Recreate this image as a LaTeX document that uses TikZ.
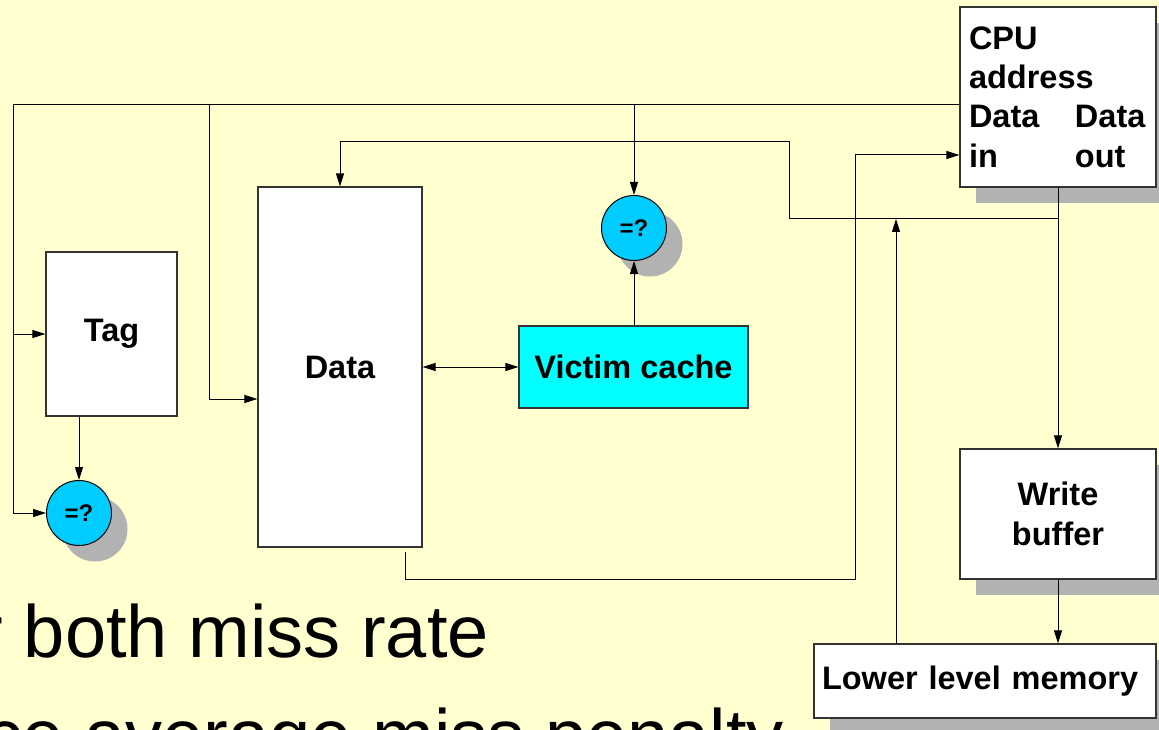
\documentclass[tikz,border=0pt]{standalone}
\usepackage{fontspec}
\setmainfont{Liberation Sans}
\usepackage{xcolor}
\usepackage{tikz}
\usetikzlibrary{arrows.meta,shadows}
\definecolor{vcyellow}{RGB}{255,255,208}
\definecolor{vccyan}{RGB}{0,255,255}
\definecolor{vcblue}{RGB}{0,204,255}
\definecolor{vcgray}{RGB}{178,178,178}
\newcommand\vclabel{\bfseries\fontsize{32.5}{39.3}\selectfont}
\tikzset{
  vcback/.style={fill=vcyellow},
  vcbox/.style={draw=black!80, line width=1.2pt, fill=white, inner sep=0pt, font=\vclabel},
  vcshade/.style={drop shadow={shadow xshift=16pt, shadow yshift=-16pt, fill=vcgray, opacity=1}},
  vccmp/.style={circle, draw=black, line width=1pt, fill=vcblue, minimum size=65pt, inner sep=0pt, font=\bfseries\fontsize{24}{24}\selectfont, vcshade},
  vcwire/.style={line width=1pt, draw=black},
  vcarrow/.style={vcwire, -{Triangle[length=13pt,width=8pt]}},
  vcboth/.style={vcwire, {Triangle[length=13pt,width=8pt]}-{Triangle[length=13pt,width=8pt]}},
  vcbig/.style={font=\fontsize{74}{90}\selectfont, inner sep=0pt},
}
\begin{document}
\begin{tikzpicture}[x=1pt,y=-1pt]
\useasboundingbox (0,0) rectangle (1159,730);
\clip (0,0) rectangle (1159,730);
\fill[vcback] (0,0) rectangle (1159,730);
\node[vcbig, anchor=base east] (rate) at (489,657) {r both miss rate};
\node[vcbig, anchor=base east] (penalty) at (784,761) {ce average miss penalty};
\node[vcbox, vcshade, minimum width=196pt, minimum height=180pt, text width=178pt, align=left] (cpu) at (1058,97) {CPU\\address\\\makebox[106pt][l]{Data}Data\\\makebox[106pt][l]{in}out};
\node[vcbox, minimum width=131pt, minimum height=164pt] (tag) at (111.5,334) {Tag};
\node[vcbox, minimum width=164pt, minimum height=360pt] (data) at (340,367) {Data};
\node[vcbox, fill=vccyan, minimum width=229pt, minimum height=82pt] (victim) at (633.5,367) {Victim cache};
\node[vccmp] (cmpa) at (79,513) {=?};
\node[vccmp] (cmpb) at (634,228) {=?};
\node[vcbox, vcshade, minimum width=196pt, minimum height=130pt, align=center] (wbuf) at (1058,514) {Write\\buffer};
\node[vcbox, vcshade, minimum width=342pt, minimum height=74pt, text width=326pt, align=left] (llm) at (985,681) {Lower level memory};
\coordinate (abus) at (13,105);
\coordinate (dtap) at (209,105);
\coordinate (obus) at (1058,219);
\coordinate (ojog) at (789,142);
\coordinate (ibus) at (855,579);
\coordinate (lup) at (896,219);
\draw[vcarrow] ([yshift=-8pt]cpu.west) -- (abus) |- (cmpa);
\draw[vcarrow] (abus |- tag) -- (tag);
\draw[vcarrow] (dtap) |- ([yshift=-32pt]data.west);
\draw[vcarrow] (abus -| cmpb) -- (cmpb);
\draw[vcarrow] (tag.south -| cmpa) -- (cmpa);
\draw[vcarrow] (victim.north -| cmpb) -- (cmpb);
\draw[vcboth] (data) -- (victim);
\draw[vcarrow] (cpu) -- (wbuf);
\draw[vcarrow] (obus) -| (ojog) -| (data);
\draw[vcarrow] (wbuf.south) -- (wbuf.south |- llm.north);
\draw[vcarrow] (llm.north -| lup) -- (lup);
\draw[vcarrow] ([xshift=65pt,yshift=-4pt]data.south) |- (ibus) |- ([yshift=-58pt]cpu.west);
\end{tikzpicture}
\end{document}
